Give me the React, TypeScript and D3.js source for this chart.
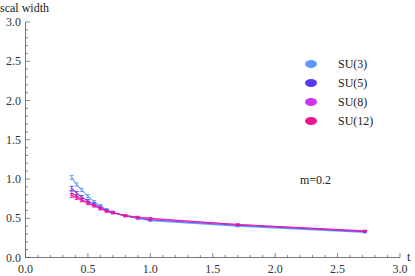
import React, { useEffect, useRef } from 'react';
import * as d3 from 'd3';

const tValues = [0.37, 0.41, 0.45, 0.5, 0.55, 0.6, 0.65, 0.7, 0.8, 0.9, 1.0, 1.7, 2.72];
const su3 = [1.02, 0.93, 0.86, 0.78, 0.71, 0.66, 0.61, 0.58, 0.53, 0.5, 0.47, 0.4, 0.32];
const su5 = [0.88, 0.82, 0.77, 0.72, 0.68, 0.64, 0.6, 0.57, 0.53, 0.5, 0.48, 0.41, 0.33];
const su8 = [0.82, 0.78, 0.74, 0.7, 0.66, 0.63, 0.59, 0.57, 0.53, 0.51, 0.49, 0.42, 0.335];
const su12 = [0.79, 0.76, 0.73, 0.69, 0.66, 0.62, 0.59, 0.57, 0.535, 0.515, 0.5, 0.42, 0.34];
const errors = [0.025, 0.02, 0.02, 0.018, 0.015, 0.015, 0.012, 0.012, 0.01, 0.01, 0.01, 0.008, 0.008];

const seriesNames = ['SU(3)', 'SU(5)', 'SU(8)', 'SU(12)'];
const seriesValues = [su3, su5, su8, su12];
const seriesColors = ['#5b9bff', '#5a38f0', '#cc33f0', '#f0158f'];

const xTicks = [0, 0.5, 1.0, 1.5, 2.0, 2.5, 3.0];
const yTicks = [0, 0.5, 1.0, 1.5, 2.0, 2.5, 3.0];

export default function App() {
  const svgRef = useRef<SVGSVGElement>(null);

  useEffect(() => {
    if (!svgRef.current) return;
    const svg = d3.select(svgRef.current);
    svg.selectAll('*').remove();

    const x = d3.scaleLinear().domain([0, 3]).range([25.5, 400]);
    const y = d3.scaleLinear().domain([0, 3]).range([257.5, 22]);
    const axisColor = '#555';

    const g = svg.append('g')
      .style('font-family', "'Times New Roman', 'Liberation Serif', Times, serif")
      .style('font-size', '12px');

    // axes
    g.append('line').attr('x1', x(0)).attr('x2', x(3)).attr('y1', y(0)).attr('y2', y(0))
      .attr('stroke', axisColor).attr('stroke-width', 0.8);
    g.append('line').attr('x1', x(0)).attr('x2', x(0)).attr('y1', y(0)).attr('y2', y(3))
      .attr('stroke', axisColor).attr('stroke-width', 0.8);

    // minor + major ticks, every 0.1
    d3.range(0, 31).forEach(i => {
      const v = i / 10;
      const len = i % 5 === 0 ? 4.5 : 2.5;
      g.append('line').attr('x1', x(v)).attr('x2', x(v)).attr('y1', y(0)).attr('y2', y(0) - len)
        .attr('stroke', axisColor).attr('stroke-width', 0.7);
      g.append('line').attr('x1', x(0)).attr('x2', x(0) + len).attr('y1', y(v)).attr('y2', y(v))
        .attr('stroke', axisColor).attr('stroke-width', 0.7);
    });

    g.selectAll('text.xt').data(xTicks).join('text')
      .attr('class', 'xt')
      .attr('x', d => x(d)).attr('y', 273)
      .attr('text-anchor', 'middle').attr('fill', '#333')
      .text(d => d.toFixed(1));

    g.selectAll('text.yt').data(yTicks).join('text')
      .attr('class', 'yt')
      .attr('x', 21).attr('y', d => y(d) + 4)
      .attr('text-anchor', 'end').attr('fill', '#333')
      .text(d => d.toFixed(1));

    g.append('text').attr('x', 0).attr('y', 12).attr('fill', '#222').text('scal width');
    g.append('text').attr('x', 407).attr('y', 261).attr('fill', '#222').text('t');

    // series with error bars
    const line = d3.line<number>()
      .x((_, i) => x(tValues[i]))
      .y(d => y(d));

    seriesValues.forEach((vals, si) => {
      const color = seriesColors[si];
      g.append('path').datum(vals).attr('d', line)
        .attr('fill', 'none').attr('stroke', color).attr('stroke-width', 1.1)
        .attr('opacity', 0.9);
      vals.forEach((v, i) => {
        const cx = x(tValues[i]);
        const e = errors[i];
        g.append('line').attr('x1', cx).attr('x2', cx).attr('y1', y(v - e)).attr('y2', y(v + e))
          .attr('stroke', color).attr('stroke-width', 0.9);
        [v - e, v + e].forEach(yy => {
          g.append('line').attr('x1', cx - 2).attr('x2', cx + 2).attr('y1', y(yy)).attr('y2', y(yy))
            .attr('stroke', color).attr('stroke-width', 0.9);
        });
      });
    });

    // legend
    seriesNames.forEach((name, i) => {
      const ly = 64 + i * 19;
      g.append('ellipse').attr('cx', 311).attr('cy', ly).attr('rx', 6).attr('ry', 4)
        .attr('fill', seriesColors[i]);
      g.append('text').attr('x', 338).attr('y', ly + 4).attr('fill', '#222').text(name);
    });

    g.append('text').attr('x', 300).attr('y', 184).attr('fill', '#222').text('m=0.2');
  }, []);

  return (
    <svg ref={svgRef} width={415} height={276}
      style={{ position: 'absolute', left: 0, top: 0, background: '#fff' }} />
  );
}
